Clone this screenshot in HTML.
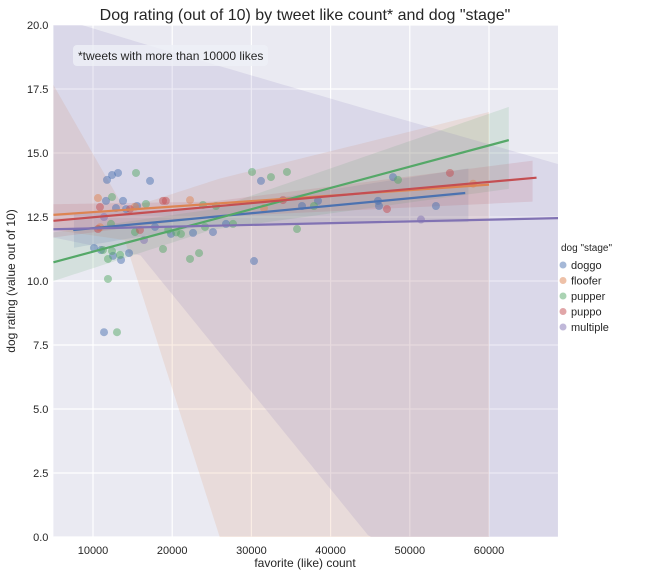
<!DOCTYPE html>
<html><head><meta charset="utf-8"><style>
html,body{margin:0;padding:0;background:#fff;overflow:hidden;width:645px;height:576px}
svg{display:block;overflow:hidden}
svg text{font-family:"Liberation Sans",Arial,sans-serif}
</style></head><body>
<svg id="chart" width="645" height="576" xmlns="http://www.w3.org/2000/svg"></svg>
<script>
const seriesNames=["doggo","floofer","pupper","puppo","multiple"];
const seriesColors=["#4c72b0","#dd8452","#55a868","#c44e52","#8172b3"];
const doggoX=[11770,12400,13160,17200,11640,13790,12900,14170,15560,10130,11010,12525,13540,14550,11390,17830,19850,22630,25150,26790,30330,31210,36390,38410,45980,46110,47880,53300];
const doggoY=[13.95,14.14,14.22,13.91,13.13,13.13,12.85,12.81,12.93,11.29,11.21,10.98,10.82,11.09,8.0,12.11,11.84,11.88,11.91,12.23,10.78,13.91,12.93,13.13,13.13,12.93,14.06,12.93];
const flooferX=[10630,22250,31590,10900,15300,58000];
const flooferY=[13.24,13.16,12.85,12.1,12.9,13.8];
const pupperX=[15430,12400,16690,12270,15300,18840,22250,23390,11890,13030,12400,11890,13410,11260,21110,24140,27680,30080,32470,34490,35760,23890,25530,37900,48510,20500,19500];
const pupperY=[14.22,13.28,13.01,12.23,11.91,11.25,10.86,11.09,10.08,8.0,11.17,10.86,11.02,11.21,11.84,12.11,12.23,14.26,14.06,14.26,12.03,12.97,12.93,12.93,13.95,11.9,12.0];
const puppoX=[10880,18840,15930,14670,10630,33990,47120,55070,19200];
const puppoY=[12.89,13.13,11.99,12.81,12.03,13.16,12.81,14.22,13.13];
const multipleX=[11390,16440,51410];
const multipleY=[12.5,11.6,12.4];
const lineStart=[7500,5000,5000,5000,5000];
const lineEnd=[57000,60000,62500,66000,69000];
// bootstrap confidence band knots
const doggoBandX=[7600,25000,57400],doggoBandLo=[11.3,12.2,12.3],doggoBandHi=[12.65,12.85,14.4];
const flooferBandX=[5000,14000,26000,60000],flooferBandLo=[12.0,11.6,0,-30],flooferBandHi=[17.66,12.8,14.0,16.6];
const pupperBandX=[5000,25000,62500],pupperBandLo=[10.0,12.0,13.6],pupperBandHi=[11.9,12.8,16.8];
const puppoBandX=[5000,25000,65500],puppoBandLo=[11.7,12.5,13.1],puppoBandHi=[13.0,13.1,14.7];
const multipleBandX=[5000,16000,44700,68700],multipleBandLo=[11.7,11.0,0.08,-9.1],multipleBandHi=[20.34,19.3,16.7,14.57];
const xTicks=[10000,20000,30000,40000,50000,60000];
const yTicks=[0,2.5,5,7.5,10,12.5,15,17.5,20];
const seriesX=[doggoX,flooferX,pupperX,puppoX,multipleX];
const seriesY=[doggoY,flooferY,pupperY,puppoY,multipleY];
const bandX=[doggoBandX,flooferBandX,pupperBandX,puppoBandX,multipleBandX];
const bandLo=[doggoBandLo,flooferBandLo,pupperBandLo,puppoBandLo,multipleBandLo];
const bandHi=[doggoBandHi,flooferBandHi,pupperBandHi,puppoBandHi,multipleBandHi];

const NS="http://www.w3.org/2000/svg";
const svg=document.getElementById("chart");
const L=53.4,R=558,T=25,B=537,X0=5000,X1=5000+(R-L)/7.92*1000,Y0=0,Y1=20;
const sx=v=>L+(v-X0)/(X1-X0)*(R-L);
const sy=v=>B-(v-Y0)/(Y1-Y0)*(B-T);
const clampY=py=>Math.min(B,Math.max(T,py));
const clampX=px=>Math.min(R,Math.max(L,px));
function mk(tag,attrs,parent){const e=document.createElementNS(NS,tag);for(const k in attrs)e.setAttribute(k,attrs[k]);(parent||svg).appendChild(e);return e;}

const bg=mk("rect",{x:L,y:T,width:R-L,height:B-T,fill:"#eaeaf2"});


xTicks.forEach(t=>{
 const g=mk("line",{x1:sx(t),x2:sx(t),y1:T,y2:B,stroke:"#fff","stroke-width":1.2});
 
 
 const tx=mk("text",{x:sx(t),y:B+17,"text-anchor":"middle","font-size":11,fill:"#262626"});tx.textContent=t;
 
 
});
yTicks.forEach(t=>{
 const g=mk("line",{x1:L,x2:R,y1:sy(t),y2:sy(t),stroke:"#fff","stroke-width":1.2});
 
 
 const tx=mk("text",{x:L-5,y:sy(t)+4,"text-anchor":"end","font-size":11,fill:"#262626"});tx.textContent=t.toFixed(1);
 
 
});

const pg=mk("g",{});


const fits=[];
seriesX.forEach((xs,i)=>{
 const n=xs.length,ys=seriesY[i];
 const mx=xs.reduce((a,b)=>a+b,0)/n,my=ys.reduce((a,b)=>a+b,0)/n;
 let sxx=0,sxy=0;xs.forEach((x,j)=>{sxx+=(x-mx)**2;sxy+=(x-mx)*(ys[j]-my);});
 const b=sxy/sxx,a=my-b*mx;
 fits.push({a,b});
});
function samplePoly(xs,ys){
 const pts=[];
 for(let k=0;k<xs.length-1;k++){
  for(let s=0;s<60;s++){
   const t=s/60,x=xs[k]+(xs[k+1]-xs[k])*t,y=ys[k]+(ys[k+1]-ys[k])*t;
   pts.push([x,y]);
  }
 }
 pts.push([xs[xs.length-1],ys[ys.length-1]]);
 return pts.filter(p=>sx(p[0])<=R+0.5).map(p=>clampX(sx(p[0])).toFixed(2)+","+clampY(sy(p[1])).toFixed(2));
}
bandX.forEach((bx,i)=>{
 const up=samplePoly(bx,bandHi[i]);
 const lo=samplePoly(bx,bandLo[i]).reverse();
 const p=mk("polygon",{points:up.concat(lo).join(" "),fill:seriesColors[i],"fill-opacity":0.15},pg);
 
 
});
seriesX.forEach((xs,i)=>{
 xs.forEach((x,j)=>{
  const c=mk("circle",{cx:sx(x),cy:sy(seriesY[i][j]),r:4,fill:seriesColors[i],"fill-opacity":0.5},pg);
  
  
 });
});
fits.forEach((f,i)=>{
 const xe=Math.min(lineEnd[i],X1);
 const l=mk("line",{x1:sx(lineStart[i]),y1:sy(f.a+f.b*lineStart[i]),x2:sx(xe),y2:sy(f.a+f.b*xe),stroke:seriesColors[i],"stroke-width":2.2},pg);
 
 
});

const ab=mk("rect",{x:73,y:45,width:195,height:21,rx:4,fill:"#eef0f6","fill-opacity":0.8});


const at=mk("text",{x:78,y:60,"font-size":12,fill:"#262626"});at.textContent="*tweets with more than 10000 likes";



const title=mk("text",{x:305,y:20,"text-anchor":"middle","font-size":16,fill:"#262626"});title.textContent='Dog rating (out of 10) by tweet like count* and dog "stage"';


const xl=mk("text",{x:305,y:567,"text-anchor":"middle","font-size":12,fill:"#262626"});xl.textContent="favorite (like) count";


const yl=mk("text",{x:15,y:281,"text-anchor":"middle","font-size":12,fill:"#262626",transform:"rotate(-90 15 281)"});yl.textContent="dog rating (value out of 10)";



const lt=mk("text",{x:561,y:251,"font-size":10,fill:"#262626"});lt.textContent='dog "stage"';


seriesNames.forEach((nm,i)=>{
 const y=265+i*15.5;
 const c=mk("circle",{cx:563,cy:y,r:3.5,fill:seriesColors[i],"fill-opacity":0.5});
 
 
 const t=mk("text",{x:571,y:y+4,"font-size":11,fill:"#262626"});t.textContent=nm;
 
 
});
</script>
</body></html>
